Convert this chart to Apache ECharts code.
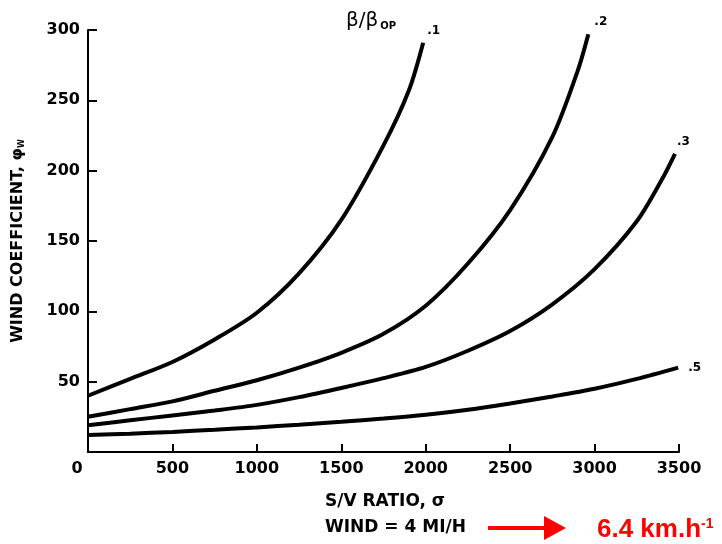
<!DOCTYPE html>
<html>
<head>
<meta charset="utf-8">
<script src="https://cdn.jsdelivr.net/npm/echarts@6/dist/echarts.min.js"></script>
<style>
  html, body { margin: 0; padding: 0; background: #fff; }
  #chart { width: 722px; height: 544px; }
</style>
</head>
<body>
<div id="chart"></div>
<script>
// S/V ratio (sigma) samples and wind coefficient values for each beta/beta_op curve
var sigma01 = [0, 250, 500, 750, 1000, 1250, 1500, 1750, 1900, 1985];
var phi01   = [40, 52, 64, 80, 99, 127, 165, 218, 257, 291];

var sigma02 = [0, 250, 500, 750, 1000, 1250, 1500, 1750, 2000, 2250, 2500, 2750, 2900, 2963];
var phi02   = [25, 30.5, 36, 43.5, 51, 60, 70.5, 84, 104, 134, 172, 224, 271, 297];

var sigma03 = [0, 250, 500, 750, 1000, 1250, 1500, 1750, 2000, 2250, 2500, 2750, 3000, 3250, 3400, 3476];
var phi03   = [19, 22.5, 26, 29.5, 33.5, 39, 45.5, 52.5, 60.5, 72, 86, 105, 130, 164, 194, 212];

var sigma05 = [0, 250, 500, 750, 1000, 1250, 1500, 1750, 2000, 2250, 2500, 2750, 3000, 3250, 3495];
var phi05   = [12, 13, 14.3, 15.8, 17.5, 19.4, 21.5, 23.8, 26.5, 30, 34.5, 39.5, 45, 52, 60];

var curveNames = ['.1', '.2', '.3', '.5'];

// Axis ticks
var xTicks = [0, 500, 1000, 1500, 2000, 2500, 3000, 3500];
var yTicks = [0, 50, 100, 150, 200, 250, 300];

var boldFont = '"DejaVu Sans", sans-serif';

function pairs(xs, ys) {
  return xs.map(function (x, i) { return [x, ys[i]]; });
}

function curve(name, xs, ys, labelOffset) {
  return {
    name: name,
    type: 'line',
    data: pairs(xs, ys),
    smooth: 0.3,
    symbol: 'none',
    lineStyle: { color: '#000', width: 4 },
    endLabel: {
      show: true,
      formatter: name,
      offset: labelOffset,
      color: '#000',
      fontFamily: boldFont,
      fontWeight: 'bold',
      fontSize: 12
    },
    z: 3
  };
}

var chart = echarts.init(document.getElementById('chart'));

chart.setOption({
  backgroundColor: '#fff',
  animation: false,
  grid: { left: 88, right: 43, top: 30, bottom: 92, containLabel: false },
  xAxis: {
    type: 'value',
    min: xTicks[0],
    max: xTicks[xTicks.length - 1],
    interval: 500,
    splitLine: { show: false },
    axisLine: { show: true, onZero: false, lineStyle: { color: '#000', width: 2 } },
    axisTick: { show: true, inside: true, length: 8, lineStyle: { color: '#000', width: 2 } },
    axisLabel: {
      margin: 9,
      color: '#000',
      fontFamily: boldFont,
      fontWeight: 'bold',
      fontSize: 16,
      formatter: function (v) { return v === 0 ? '{z|0}' : String(v); },
      rich: {
        z: { padding: [0, 22, 0, 0], color: '#000', fontFamily: boldFont, fontWeight: 'bold', fontSize: 16 }
      }
    }
  },
  yAxis: {
    type: 'value',
    min: yTicks[0],
    max: yTicks[yTicks.length - 1],
    interval: 50,
    splitLine: { show: false },
    axisLine: { show: true, onZero: false, lineStyle: { color: '#000', width: 2 } },
    axisTick: { show: true, inside: true, length: 9, lineStyle: { color: '#000', width: 2 } },
    axisLabel: {
      margin: 8,
      color: '#000',
      fontFamily: boldFont,
      fontWeight: 'bold',
      fontSize: 16,
      formatter: function (v) { return v === 0 ? '' : String(v); }
    },
    name: '{t|WIND COEFFICIENT, φ}{s|W}',
    nameLocation: 'middle',
    nameRotate: 90,
    nameGap: 62,
    nameTextStyle: {
      rich: {
        t: { color: '#000', fontFamily: boldFont, fontWeight: 'bold', fontSize: 16 },
        s: { color: '#000', fontFamily: boldFont, fontWeight: 'bold', fontSize: 8, verticalAlign: 'bottom', padding: [6, 0, 0, 0] }
      }
    }
  },
  series: [
    curve(curveNames[0], sigma01, phi01, [-4, -12]),
    curve(curveNames[1], sigma02, phi02, [-2, -12]),
    curve(curveNames[2], sigma03, phi03, [-6, -12]),
    curve(curveNames[3], sigma05, phi05, [2, 0])
  ],
  graphic: [
    {
      type: 'text',
      left: 346,
      top: 11,
      style: {
        text: '{b|β/β}{s|OP}',
        rich: {
          b: { fontFamily: boldFont, fontSize: 20, fill: '#000' },
          s: { fontFamily: boldFont, fontSize: 10, fontWeight: 'bold', fill: '#000', padding: [11, 0, 0, 2] }
        }
      }
    },
    {
      type: 'text',
      left: 325,
      top: 493,
      style: {
        text: 'S/V RATIO, σ',
        fontFamily: boldFont,
        fontWeight: 'bold',
        fontSize: 17,
        fill: '#000'
      }
    },
    {
      type: 'text',
      left: 325,
      top: 519,
      style: {
        text: 'WIND = 4 MI/H',
        fontFamily: boldFont,
        fontWeight: 'bold',
        fontSize: 17,
        fill: '#000'
      }
    },
    {
      type: 'rect',
      shape: { x: 488, y: 526, width: 58, height: 4 },
      style: { fill: '#ff0000' }
    },
    {
      type: 'polygon',
      shape: { points: [[544, 516], [566, 528], [544, 540]] },
      style: { fill: '#ff0000' }
    },
    {
      type: 'text',
      left: 597,
      top: 517,
      style: {
        text: '{m|6.4 km.h}{u|-1}',
        rich: {
          m: { fontFamily: '"Liberation Sans", Arial, sans-serif', fontWeight: 'bold', fontSize: 26, fill: '#ff0000' },
          u: { fontFamily: '"Liberation Sans", Arial, sans-serif', fontWeight: 'bold', fontSize: 14, fill: '#ff0000', verticalAlign: 'top', padding: [0, 0, 12, 0] }
        }
      }
    }
  ]
});
</script>
</body>
</html>
